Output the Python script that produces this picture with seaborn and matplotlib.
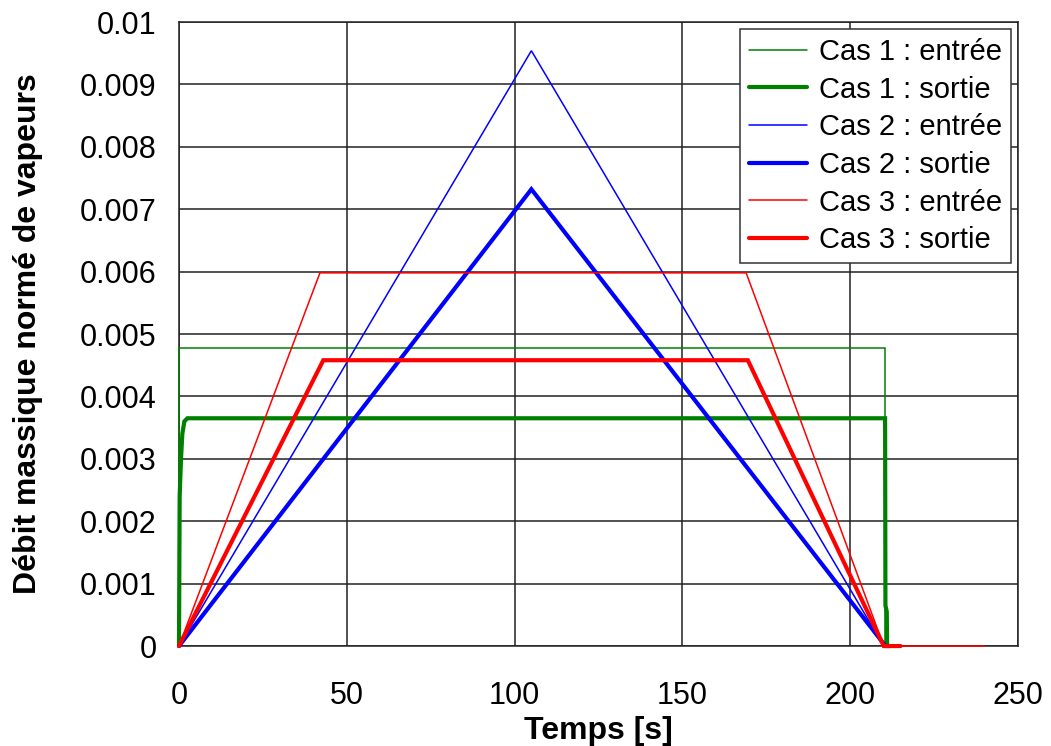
import numpy as np
import pandas as pd
import matplotlib
matplotlib.use("Agg")
import matplotlib.pyplot as plt
import seaborn as sns

# Valeurs (temps en s, debit norme)
t_c1_in = [0, 0, 210.4, 210.4, 211.5]
q_c1_in = [0, 0.00478, 0.00478, 0, 0]

t_c1_out = [0, 0.2, 0.6, 1.0, 1.6, 2.5, 210.2, 210.4, 210.5, 210.9, 211.0, 212.0]
q_c1_out = [0, 0.0024, 0.0030, 0.0034, 0.0036, 0.00365, 0.00365, 0.00365, 0.00065, 0.00055, 0, 0]

t_c2_in = [0, 105, 210]
q_c2_in = [0, 0.00954, 0]

t_c2_out = [0, 105, 210.5]
q_c2_out = [0, 0.00732, 0]

t_c3_in = [0, 42, 169, 210, 240]
q_c3_in = [0, 0.00598, 0.00598, 0, 0]

t_c3_out = [0, 43, 169.5, 210, 215]
q_c3_out = [0, 0.00458, 0.00458, 0, 0]

series = [
    ("Cas 1 : entrée", t_c1_in, q_c1_in, "#008000", 1.1),
    ("Cas 1 : sortie", t_c1_out, q_c1_out, "#008000", 3.0),
    ("Cas 2 : entrée", t_c2_in, q_c2_in, "#0000ff", 1.1),
    ("Cas 2 : sortie", t_c2_out, q_c2_out, "#0000ff", 3.0),
    ("Cas 3 : entrée", t_c3_in, q_c3_in, "#ff0000", 1.1),
    ("Cas 3 : sortie", t_c3_out, q_c3_out, "#ff0000", 3.0),
]

sns.set_style("white")
plt.rcParams['font.family'] = ['Liberation Sans', 'DejaVu Sans']
plt.rcParams['text.color'] = 'black'
plt.rcParams['axes.labelcolor'] = 'black'
plt.rcParams['xtick.color'] = 'black'
plt.rcParams['ytick.color'] = 'black'

fig = plt.figure(figsize=(10.51, 7.46), dpi=100)
ax = fig.add_axes([0.1703, 0.134, 0.7983, 0.8365])

for name, t, q, col, lw in series:
    df = pd.DataFrame({"Temps": t, "Debit": q})
    sns.lineplot(data=df, x="Temps", y="Debit", ax=ax, color=col, linewidth=lw,
                 label=name, sort=False, estimator=None, solid_joinstyle="miter",
                 zorder=3, clip_on=False)

ax.set_xlim(0, 250)
ax.set_ylim(0, 0.01)
ax.set_xticks(np.arange(0, 251, 50))
ax.set_yticks(np.arange(0, 0.0101, 0.001))
ax.set_yticklabels(["0", "0.001", "0.002", "0.003", "0.004", "0.005",
                    "0.006", "0.007", "0.008", "0.009", "0.01"])
ax.grid(True, color="#222222", linewidth=1.1)
ax.set_axisbelow(True)
for s in ax.spines.values():
    s.set_color("#222222")
    s.set_linewidth(1.1)
ax.tick_params(axis="both", direction="out", length=7, width=1.1, color="black",
               labelsize=22, pad=9)
ax.tick_params(axis="x", pad=18)

ax.set_xlabel("Temps [s]", fontsize=23, fontweight="bold", labelpad=4)
ax.set_ylabel("Débit massique normé de vapeurs", fontsize=23, fontweight="bold", labelpad=27)

leg = ax.legend(loc="upper right", fontsize=21, frameon=True, fancybox=False,
                edgecolor="#333333", framealpha=1, borderaxespad=0.25,
                handlelength=2.0, labelspacing=0.33, borderpad=0.3, handletextpad=0.4)
leg.get_frame().set_linewidth(1.1)
leg.set_zorder(5)

fig.savefig("out.png", dpi=100)
